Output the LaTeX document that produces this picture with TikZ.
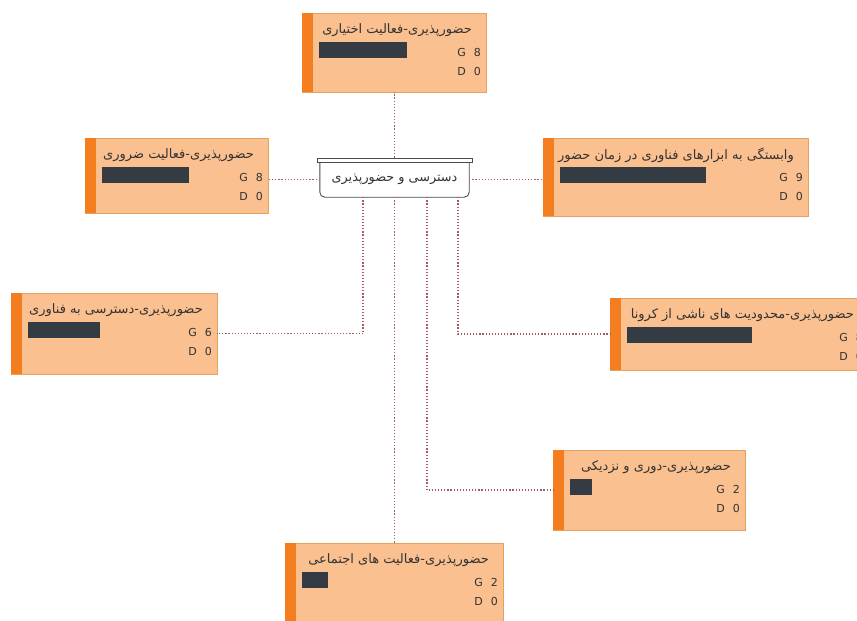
\documentclass[tikz,border=0pt]{standalone}
\usepackage{fontspec}
\setmainfont{DejaVu Sans}
\newfontfamily\arabicfont[Script=Arabic]{DejaVu Sans}
\TeXXeTstate=1
\definecolor{boxfill}{HTML}{FAC08F}
\definecolor{stripc}{HTML}{F47D20}
\definecolor{bordc}{HTML}{E3A25E}
\definecolor{barc}{HTML}{353B42}
\definecolor{txtc}{HTML}{333333}
\definecolor{cgray}{HTML}{4A4A4A}
\definecolor{connc}{HTML}{A55B5B}
\tikzset{
  pbx/.style={fill=boxfill, draw=bordc, line width=0.8pt, inner sep=0pt, outer sep=0pt},
  ttl/.style={inner sep=0pt, text=txtc, font=\arabicfont\fontsize{13}{15}\selectfont},
  gd/.style={inner sep=0pt, text=txtc, font=\fontsize{11}{13}\selectfont},
  conn/.style={draw=connc, line width=1.2pt, dash pattern=on 1.2pt off 1.9pt},
  cbody/.style={inner sep=0pt, text=txtc, font=\arabicfont\fontsize{12.8}{15}\selectfont, minimum width=149pt, minimum height=35pt},
  ctabst/.style={draw=cgray, line width=0.9pt, fill=white, inner sep=0pt, minimum width=155pt, minimum height=4pt}
}
\newcommand{\pbox}[9]{%
  \node[pbx, minimum width=#4pt, minimum height=#5pt, anchor=north west] (#1) at (#2,#3) {};
  \fill[stripc] (#1.north west) rectangle ([xshift=11pt]#1.south west);
  \node[ttl, anchor=east] (#1t) at ([xshift=-14pt,yshift=-17.5pt]#1.north east) {#6};
  \fill[barc] ([xshift=17pt,yshift=-29pt]#1.north west) rectangle ++(#7,16);
  \node[gd, anchor=east] (#1g) at ([xshift=-5pt,yshift=-39pt]#1.north east) {G\hspace{8pt}#8};
  \node[gd, anchor=east] (#1d) at ([xshift=-5pt,yshift=-58pt]#1.north east) {D\hspace{8pt}#9};
}
\begin{document}
\begin{tikzpicture}[x=1pt,y=-1pt]
\useasboundingbox (0,0) rectangle (857,621);
\clip (0,0) rectangle (857,621);
\fill[white] (0,0) rectangle (857,621);
\pbox{n1}{302}{13}{184}{79}{\beginR حضورپذیری-فعالیت اختیاری\endR}{88}{8}{0}
\pbox{n2}{85}{138}{183}{75}{\beginR حضورپذیری-فعالیت ضروری\endR}{87}{8}{0}
\pbox{n3}{543}{138}{265}{78}{\beginR وابستگی به ابزارهای فناوری در زمان حضور\endR}{146}{9}{0}
\pbox{n4}{11}{293}{206}{81}{\beginR حضورپذیری-دسترسی به فناوری\endR}{72}{6}{0}
\pbox{n6}{610}{298}{258}{72}{\beginR حضورپذیری-محدودیت های ناشی از کرونا\endR}{125}{8}{0}
\pbox{n7}{553}{450}{192}{80}{\beginR حضورپذیری-دوری و نزدیکی\endR}{22}{2}{0}
\pbox{n8}{285}{543}{218}{80}{\beginR حضورپذیری-فعالیت های اجتماعی\endR}{26}{2}{0}
% center node
\node[cbody] (c) at (394.5,179.5) {\beginR دسترسی و حضورپذیری\endR};
\draw[cgray, line width=0.9pt, rounded corners=5pt] (c.north west) -- (c.south west) -- (c.south east) -- (c.north east);
\node[ctabst] (ctab) at (394.5,160) {};
% connectors
\draw[conn] (ctab.north) -- (ctab.north |- n1.south);
\draw[conn] (c.west) -- (c.west -| n2.east);
\draw[conn] (c.east) -- (c.east -| n3.west);
\draw[conn] ([xshift=-31.5pt]c.south) |- (n4.east);
\draw[conn] (c.south) -- (c.south |- n8.north);
\draw[conn] ([xshift=32.5pt]c.south) |- (n7.west);
\draw[conn] ([xshift=63.5pt]c.south) |- (n6.west);
\end{tikzpicture}
\end{document}
